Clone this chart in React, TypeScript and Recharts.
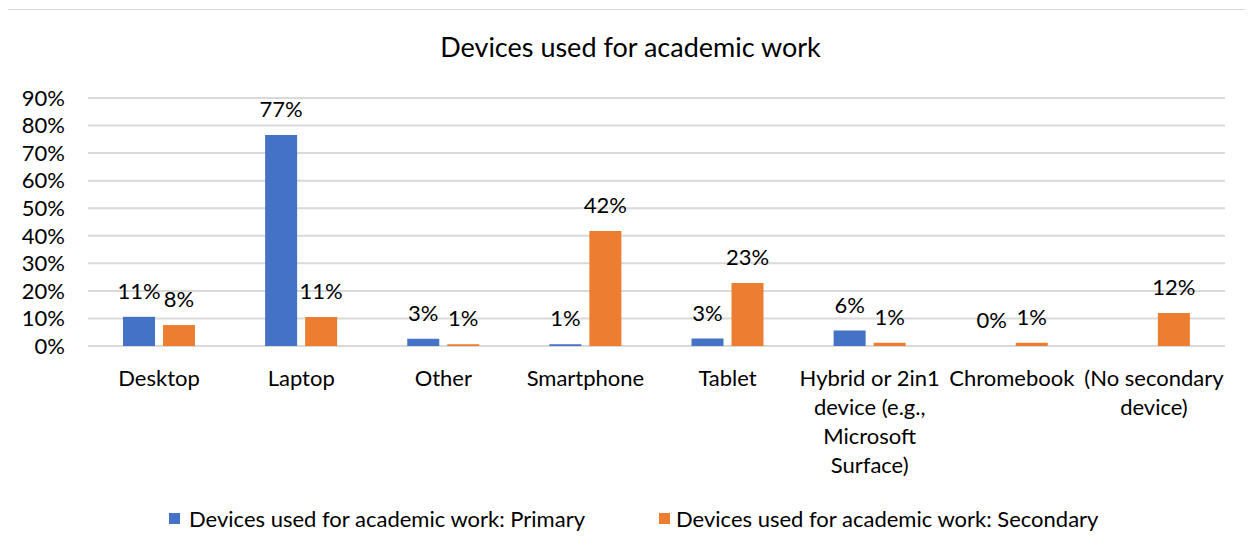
import React from 'react';
import { BarChart, Bar, XAxis, YAxis, CartesianGrid, LabelList } from 'recharts';

const categories = [
  'Desktop',
  'Laptop',
  'Other',
  'Smartphone',
  'Tablet',
  'Hybrid or 2in1 device (e.g., Microsoft Surface)',
  'Chromebook',
  '(No secondary device)',
];
const tickLabelLines = [
  ['Desktop'],
  ['Laptop'],
  ['Other'],
  ['Smartphone'],
  ['Tablet'],
  ['Hybrid or 2in1', 'device (e.g.,', 'Microsoft', 'Surface)'],
  ['Chromebook'],
  ['(No secondary', 'device)'],
];
const primaryValues = [0.106, 0.766, 0.026, 0.006, 0.027, 0.056, 0, null];
const secondaryValues = [0.076, 0.105, 0.006, 0.417, 0.229, 0.012, 0.012, 0.12];
const yTicks = [0, 0.1, 0.2, 0.3, 0.4, 0.5, 0.6, 0.7, 0.8, 0.9];

const seriesNames = [
  'Devices used for academic work: Primary',
  'Devices used for academic work: Secondary',
];
const title = 'Devices used for academic work';

const BLUE = '#4472C4';
const ORANGE = '#ED7D31';
const FONT = 'Lato, "Open Sans", sans-serif';
const FS = 22;

const data = categories.map((c, i) => ({
  name: c,
  primary: primaryValues[i],
  secondary: secondaryValues[i],
}));

const pct = (v: any) => (v === null || v === undefined ? '' : `${Math.round(Number(v) * 100)}%`);

const CatTick = (props: any) => {
  const { x, y, payload } = props;
  const lines = tickLabelLines[categories.indexOf(payload.value)] || [payload.value];
  return (
    <text x={x} y={y + 32} textAnchor="middle" fontSize={FS} fontFamily={FONT} fill="#000">
      {lines.map((l: string, i: number) => (
        <tspan key={i} x={x} dy={i === 0 ? '0.35em' : 29}>
          {l}
        </tspan>
      ))}
    </text>
  );
};

const zeroMin = (v: any) => (v === 0 ? 0.01 : 0);

export default function App() {
  return (
    <div
      style={{
        position: 'relative',
        left: -1,
        top: 1,
        width: 1245,
        height: 535,
        borderLeft: '1px solid #d9d9d9',
        borderTop: '1px solid #d9d9d9',
        background: '#fff',
        fontFamily: FONT,
      }}
    >
      <div
        style={{
          position: 'absolute',
          left: 0,
          top: 21,
          width: 1245,
          textAlign: 'center',
          fontSize: 27,
          lineHeight: '32px',
          color: '#000',
        }}
      >
        {title}
      </div>
      <BarChart
        width={1245}
        height={535}
        data={data}
        margin={{ top: 88, right: 28, left: 0, bottom: 0 }}
        barCategoryGap={35}
        barGap={8}
      >
        <CartesianGrid vertical={false} stroke="#d9d9d9" strokeWidth={2} />
        <XAxis
          dataKey="name"
          height={199}
          tickLine={false}
          axisLine={false}
          tickSize={0}
          tickMargin={0}
          interval={0}
          tick={<CatTick />}
        />
        <YAxis
          width={80}
          domain={[0, 0.9]}
          ticks={yTicks}
          interval={0}
          tickFormatter={pct}
          tickLine={false}
          axisLine={false}
          tickMargin={17}
          tick={{ fontSize: FS, fontFamily: FONT, fill: '#000' }}
        />
        <Bar dataKey="primary" fill={BLUE} barSize={32} minPointSize={zeroMin} isAnimationActive={false}>
          <LabelList
            dataKey="primary"
            position="top"
            offset={18}
            formatter={pct}
            style={{ fontSize: FS, fontFamily: FONT, fill: '#000' }}
          />
        </Bar>
        <Bar dataKey="secondary" fill={ORANGE} barSize={32} isAnimationActive={false}>
          <LabelList
            dataKey="secondary"
            position="top"
            offset={18}
            formatter={pct}
            style={{ fontSize: FS, fontFamily: FONT, fill: '#000' }}
          />
        </Bar>
      </BarChart>
      {[0, 1].map((k) => (
        <div
          key={k}
          style={{
            position: 'absolute',
            left: k === 0 ? 161 : 651,
            top: 495,
            height: 26,
            display: 'flex',
            alignItems: 'center',
            fontSize: FS,
            color: '#000',
            whiteSpace: 'nowrap',
          }}
        >
          <span
            style={{
              display: 'inline-block',
              width: 11,
              height: 11,
              background: k === 0 ? BLUE : ORANGE,
              marginRight: k === 0 ? 9 : 6,
            }}
          />
          {seriesNames[k]}
        </div>
      ))}
    </div>
  );
}
